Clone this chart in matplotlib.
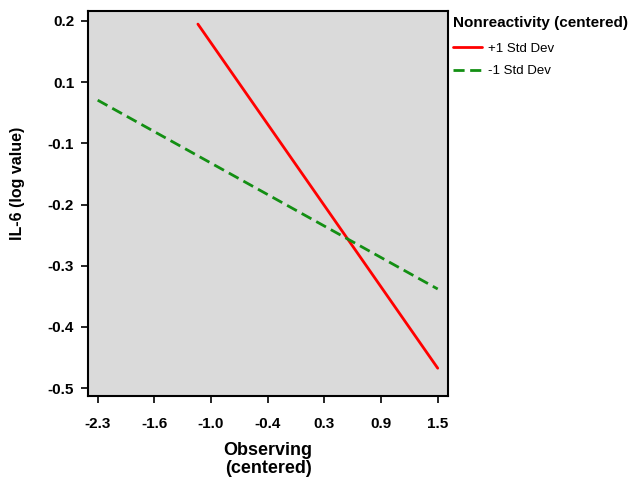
import matplotlib.pyplot as plt
import numpy as np

plt.rcParams["font.family"] = ["Liberation Sans", "DejaVu Sans"]

# ─── Datos ─────────────────────────────────────────────────────────────────────
series_names = ["+1 Std Dev", "-1 Std Dev"]
high_x = [-1.18, 1.5]
high_y = [0.194, -0.462]
low_x = [-2.3, 1.5]
low_y = [0.049, -0.311]

x_ticks = np.linspace(-2.3, 1.5, 7)
x_labels = ["-2.3", "-1.6", "-1.0", "-0.4", "0.3", "0.9", "1.5"]
y_ticks = np.linspace(0.2, -0.5, 7)
y_labels = ["0.2", "0.1", "-0.1", "-0.2", "-0.3", "-0.4", "-0.5"]

RED = "#FF0000"
GREEN = "#138F13"
BG = "#DADADA"

# ─── Figura ────────────────────────────────────────────────────────────────────
fig = plt.figure(figsize=(6.31, 4.82), dpi=100, facecolor="white")
ax = fig.add_axes([0.1395, 0.1784, 0.5705, 0.7988])
ax.set_facecolor(BG)

ax.plot(high_x, high_y, color=RED, linewidth=2.0, label=series_names[0],
        solid_capstyle="round")
ax.plot(low_x, low_y, color=GREEN, linewidth=2.0, linestyle=(0, (4, 2)),
        label=series_names[1])

ax.set_xlim(-2.408, 1.615)
ax.set_ylim(-0.515, 0.219)
ax.set_xticks(x_ticks)
ax.set_xticklabels(x_labels)
ax.set_yticks(y_ticks)
ax.set_yticklabels(y_labels)
ax.tick_params(direction="out", length=5, width=1.2, color="black",
               labelsize=11)
ax.tick_params(axis="x", pad=10)
ax.tick_params(axis="y", pad=5)
for lab in ax.get_xticklabels() + ax.get_yticklabels():
    lab.set_fontweight("bold")
for spine in ax.spines.values():
    spine.set_linewidth(1.5)
    spine.set_color("black")

ax.set_xlabel("Observing\n(centered)", fontsize=13, fontweight="bold",
              linespacing=1.05, labelpad=8)
ax.set_ylabel("IL-6 (log value)", fontsize=11.5, fontweight="bold")
ax.yaxis.set_label_coords(-0.175, 0.553)

leg = fig.legend(loc="upper left", bbox_to_anchor=(0.709, 0.978),
                 title="Nonreactivity (centered)", frameon=False,
                 fontsize=9.5, handlelength=2.2, handletextpad=0.5,
                 labelspacing=0.8, borderaxespad=0)
leg.get_title().set_fontweight("bold")
leg.get_title().set_fontsize(11)
leg._legend_box.align = "left"
leg._legend_box.sep = 9

plt.savefig("out.png", dpi=100, facecolor="white")
